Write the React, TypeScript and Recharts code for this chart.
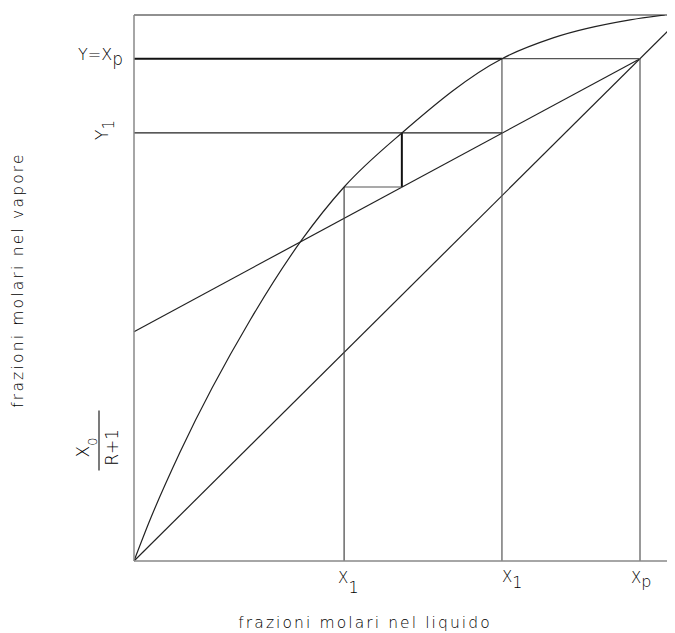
import React from "react";
import { ComposedChart, Line, XAxis, YAxis, ReferenceLine, Label } from "recharts";

// Equilibrium curve
const equilibriumX = [0, 0.029, 0.084, 0.211, 0.305, 0.382, 0.487, 0.669, 0.762, 0.902, 0.965];
const equilibriumY = [0, 0.075, 0.2, 0.441, 0.588, 0.685, 0.784, 0.92, 0.958, 0.991, 1.0];
// Diagonal y = x
const diagonalX = [0, 1];
const diagonalY = [0, 1];
// Operating line: from X0/(R+1) on the y-axis to (Xp, Xp)
const operatingX = [0, 0.92];
const operatingY = [0.42, 0.92];
// Construction values
const xpValue = 0.92;
const x1Values = [0.382, 0.669];
const y1Value = 0.784;
const stepX = 0.487;
const stepY = 0.685;
// Tick values and labels
const xTicks = [0.382, 0.669, 0.92];
const xTickMain = ["X", "X", "X"];
const xTickSub = ["1", "1", "p"];
const yTicks = [0.92, 0.784, 0.23];
const yTickMain = ["Y=X", "Y", "X"];
const yTickSub = ["p", "1", "0"];
const fractionDenominator = "R+1";
const xTitle = "frazioni molari nel liquido";
const yTitle = "frazioni molari nel vapore";

const FONT = "'DejaVu Sans', sans-serif";
const INK = "#222";
const TEXT = "#000";
const AXIS = "#888";

const curveData = equilibriumX.map((x, i) => ({ x, y: equilibriumY[i] }));

function XTick(props: any) {
  const { x, y, payload } = props;
  const i = xTicks.indexOf(payload.value);
  if (i < 0) return null;
  const dx = [-6, 0, -9][i];
  const dy = [22, 21, 22][i];
  const subDy = [10, 6, 4][i];
  return (
    <text x={x + dx} y={y + dy} fontFamily={FONT} fontSize={15} fill={TEXT} fontWeight={300}>
      {xTickMain[i]}
      <tspan dy={subDy} fontSize={16}>{xTickSub[i]}</tspan>
    </text>
  );
}

function YTick(props: any) {
  const { x, y, payload } = props;
  const i = yTicks.indexOf(payload.value);
  if (i === 0) {
    return (
      <text x={x - 11} y={y + 1.5} textAnchor="end" fontFamily={FONT} fontSize={16} fill={TEXT} fontWeight={300}>
        {yTickMain[0]}
        <tspan dy={5} fontSize={17}>{yTickSub[0]}</tspan>
      </text>
    );
  }
  if (i === 1) {
    return (
      <g transform={`translate(${x - 31},${y - 3}) rotate(-90)`}>
        <text x={0} y={5} textAnchor="middle" fontFamily={FONT} fontSize={17} fill={TEXT} fontWeight={300}>
          {yTickMain[1]}
          <tspan dy={6} fontSize={15}>{yTickSub[1]}</tspan>
        </text>
      </g>
    );
  }
  if (i === 2) {
    return (
      <g transform={`translate(${x - 35},${y + 5}) rotate(-90)`}>
        <line x1={-30} y1={0} x2={30} y2={0} stroke={INK} strokeWidth={1.2} />
        <text x={-7} y={-10} textAnchor="middle" fontFamily={FONT} fontSize={17} fill={TEXT} fontWeight={300}>
          {yTickMain[2]}
          <tspan dy={8} fontSize={13}>{yTickSub[2]}</tspan>
        </text>
        <text x={-7} y={19} textAnchor="middle" fontFamily={FONT} fontSize={17} fill={TEXT} fontWeight={300}>
          {fractionDenominator}
        </text>
      </g>
    );
  }
  return null;
}

const XTitle = () => (
  <text x={357} y={620} textAnchor="middle" fontFamily={FONT} fontSize={15.5} letterSpacing={2.1} fill={TEXT} fontWeight={300}>
    {xTitle}
  </text>
);

const YTitle = () => (
  <g transform="translate(15,272) rotate(-90)">
    <text x={0} y={0} textAnchor="middle" fontFamily={FONT} fontSize={15.5} letterSpacing={2.2} fill={TEXT} fontWeight={300}>
      {yTitle}
    </text>
  </g>
);

export default function App() {
  return (
    <div style={{ width: 667, height: 625, overflow: "hidden" }}>
      <style>{"body{overflow:hidden}"}</style>
      <ComposedChart width={680} height={625} margin={{ top: 7, right: 4, left: 0, bottom: 0 }}>
        <XAxis
          type="number"
          dataKey="x"
          domain={[0, 1]}
          ticks={xTicks}
          interval={0}
          height={72}
          tickSize={0}
          tickMargin={0}
          tickLine={false}
          axisLine={{ stroke: AXIS, strokeWidth: 1.5 }}
          tick={<XTick />}
          allowDataOverflow
        >
          <Label content={<XTitle />} />
        </XAxis>
        <YAxis
          type="number"
          dataKey="y"
          domain={[0, 1]}
          ticks={yTicks}
          interval={0}
          width={126}
          tickSize={0}
          tickMargin={0}
          tickLine={false}
          axisLine={{ stroke: AXIS, strokeWidth: 1.5 }}
          tick={<YTick />}
          allowDataOverflow
        >
          <Label content={<YTitle />} />
        </YAxis>

        {/* top border */}
        <ReferenceLine segment={[{ x: 0, y: 1 }, { x: 1, y: 1 }]} stroke={INK} strokeWidth={1.2} />
        {/* diagonal */}
        <ReferenceLine
          segment={[{ x: diagonalX[0], y: diagonalY[0] }, { x: diagonalX[1], y: diagonalY[1] }]}
          stroke={INK}
          strokeWidth={1.2}
        />
        {/* operating line */}
        <ReferenceLine
          segment={[{ x: operatingX[0], y: operatingY[0] }, { x: operatingX[1], y: operatingY[1] }]}
          stroke={INK}
          strokeWidth={1.2}
        />
        {/* Y = Xp horizontal */}
        <ReferenceLine segment={[{ x: 0, y: xpValue }, { x: x1Values[1], y: xpValue }]} stroke="#111" strokeWidth={2} />
        <ReferenceLine segment={[{ x: x1Values[1], y: xpValue }, { x: xpValue, y: xpValue }]} stroke="#555" strokeWidth={1.2} />
        {/* verticals */}
        <ReferenceLine segment={[{ x: xpValue, y: 0 }, { x: xpValue, y: xpValue }]} stroke="#555" strokeWidth={1.2} />
        <ReferenceLine segment={[{ x: x1Values[1], y: 0 }, { x: x1Values[1], y: xpValue }]} stroke="#555" strokeWidth={1.2} />
        <ReferenceLine segment={[{ x: x1Values[0], y: 0 }, { x: x1Values[0], y: stepY }]} stroke="#444" strokeWidth={1.2} />
        {/* Y1 horizontal */}
        <ReferenceLine segment={[{ x: 0, y: y1Value }, { x: x1Values[1], y: y1Value }]} stroke={INK} strokeWidth={1.2} />
        {/* step */}
        <ReferenceLine segment={[{ x: stepX, y: y1Value }, { x: stepX, y: stepY }]} stroke="#111" strokeWidth={2} />
        <ReferenceLine segment={[{ x: x1Values[0], y: stepY }, { x: stepX, y: stepY }]} stroke="#555" strokeWidth={1.2} />

        <Line
          data={curveData}
          dataKey="y"
          type="monotone"
          stroke={INK}
          strokeWidth={1.2}
          dot={false}
          activeDot={false}
          isAnimationActive={false}
        />
      </ComposedChart>
    </div>
  );
}
